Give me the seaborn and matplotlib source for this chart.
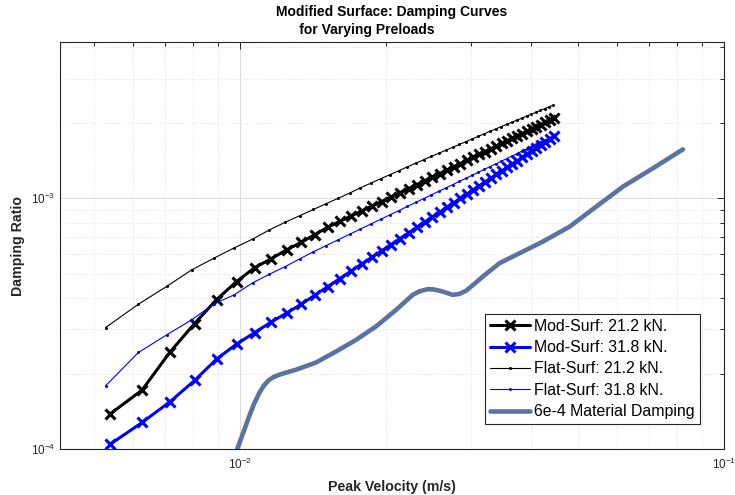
import matplotlib
matplotlib.use("Agg")
import matplotlib.pyplot as plt
from matplotlib.ticker import LogLocator, NullFormatter, LogFormatterSciNotation
import numpy as np
import pandas as pd
import seaborn as sns

# Peak velocity (m/s) for the modified-surface runs
mod_velocity = [0.00539, 0.00628, 0.00717, 0.00806, 0.00895, 0.00984, 0.01073, 0.01162,
                0.01251, 0.01340, 0.01429, 0.01518, 0.01607, 0.01696, 0.01785, 0.01874,
                0.01963, 0.02052, 0.02141, 0.02230, 0.02319, 0.02408, 0.02497, 0.02586,
                0.02675, 0.02764, 0.02853, 0.02942, 0.03031, 0.03120, 0.03209, 0.03298,
                0.03387, 0.03476, 0.03565, 0.03654, 0.03743, 0.03832, 0.03921, 0.04010,
                0.04099, 0.04188, 0.04277, 0.04366, 0.04455]

# Damping ratio, modified surface, 21.2 kN preload
mod_212 = [1.378e-4, 1.718e-4, 2.435e-4, 3.165e-4, 3.945e-4, 4.653e-4, 5.290e-4, 5.747e-4,
           6.240e-4, 6.676e-4, 7.167e-4, 7.660e-4, 8.086e-4, 8.496e-4, 8.901e-4, 9.305e-4,
           9.705e-4, 1.011e-3, 1.052e-3, 1.093e-3, 1.133e-3, 1.174e-3, 1.214e-3, 1.254e-3,
           1.295e-3, 1.335e-3, 1.375e-3, 1.415e-3, 1.455e-3, 1.495e-3, 1.535e-3, 1.575e-3,
           1.614e-3, 1.654e-3, 1.693e-3, 1.733e-3, 1.772e-3, 1.811e-3, 1.850e-3, 1.889e-3,
           1.929e-3, 1.968e-3, 2.006e-3, 2.046e-3, 2.084e-3]

# Damping ratio, modified surface, 31.8 kN preload
mod_318 = [1.043e-4, 1.276e-4, 1.543e-4, 1.876e-4, 2.284e-4, 2.620e-4, 2.913e-4, 3.215e-4,
           3.491e-4, 3.784e-4, 4.109e-4, 4.440e-4, 4.778e-4, 5.121e-4, 5.468e-4, 5.821e-4,
           6.176e-4, 6.539e-4, 6.905e-4, 7.275e-4, 7.649e-4, 8.030e-4, 8.410e-4, 8.797e-4,
           9.188e-4, 9.581e-4, 9.979e-4, 1.038e-3, 1.079e-3, 1.119e-3, 1.161e-3, 1.202e-3,
           1.244e-3, 1.286e-3, 1.328e-3, 1.371e-3, 1.414e-3, 1.457e-3, 1.501e-3, 1.545e-3,
           1.589e-3, 1.633e-3, 1.678e-3, 1.723e-3, 1.769e-3]

# Peak velocity (m/s) for the flat-surface runs
flat_velocity = [0.00528, 0.00617, 0.00706, 0.00795, 0.00884, 0.00973, 0.01062, 0.01151,
                 0.01240, 0.01329, 0.01418, 0.01507, 0.01596, 0.01685, 0.01774, 0.01863,
                 0.01952, 0.02041, 0.02130, 0.02219, 0.02308, 0.02397, 0.02486, 0.02575,
                 0.02664, 0.02753, 0.02842, 0.02931, 0.03020, 0.03109, 0.03198, 0.03287,
                 0.03376, 0.03465, 0.03554, 0.03643, 0.03732, 0.03821, 0.03910, 0.03999,
                 0.04088, 0.04177, 0.04266, 0.04355, 0.04444]

# Damping ratio, flat surface, 21.2 kN preload
flat_212 = [3.05e-4, 3.78e-4, 4.45e-4, 5.18e-4, 5.77e-4, 6.34e-4, 6.87e-4, 7.48e-4,
            8.02e-4, 8.52e-4, 9.02e-4, 9.51e-4, 1.000e-3, 1.048e-3, 1.101e-3, 1.148e-3,
            1.196e-3, 1.242e-3, 1.288e-3, 1.335e-3, 1.380e-3, 1.425e-3, 1.469e-3, 1.512e-3,
            1.555e-3, 1.598e-3, 1.640e-3, 1.682e-3, 1.725e-3, 1.767e-3, 1.808e-3, 1.850e-3,
            1.890e-3, 1.930e-3, 1.969e-3, 2.009e-3, 2.048e-3, 2.086e-3, 2.126e-3, 2.164e-3,
            2.202e-3, 2.240e-3, 2.278e-3, 2.316e-3, 2.354e-3]

# Damping ratio, flat surface, 31.8 kN preload
flat_318 = [1.787e-4, 2.426e-4, 2.853e-4, 3.274e-4, 3.793e-4, 4.118e-4, 4.598e-4, 4.980e-4,
            5.339e-4, 5.731e-4, 6.117e-4, 6.474e-4, 6.831e-4, 7.184e-4, 7.537e-4, 7.888e-4,
            8.238e-4, 8.587e-4, 8.933e-4, 9.281e-4, 9.625e-4, 9.972e-4, 1.032e-3, 1.066e-3,
            1.100e-3, 1.134e-3, 1.168e-3, 1.202e-3, 1.236e-3, 1.270e-3, 1.304e-3, 1.338e-3,
            1.371e-3, 1.405e-3, 1.438e-3, 1.472e-3, 1.505e-3, 1.539e-3, 1.572e-3, 1.606e-3,
            1.639e-3, 1.672e-3, 1.705e-3, 1.738e-3, 1.771e-3]

# Material damping reference curve
material_velocity = [0.00969, 0.00989, 0.01016, 0.01045, 0.01070, 0.01096, 0.01122, 0.01150,
                     0.01177, 0.01206, 0.01252, 0.01305, 0.01436, 0.01579, 0.01738, 0.01910,
                     0.02102, 0.02275, 0.02349, 0.02443, 0.02510, 0.02583, 0.02657, 0.02752,
                     0.02841, 0.02933, 0.03051, 0.03175, 0.03437, 0.03781, 0.04224, 0.04798,
                     0.05445, 0.06181, 0.07131, 0.08226]
material_damping = [8.42e-5, 1.009e-4, 1.161e-4, 1.349e-4, 1.516e-4, 1.671e-4, 1.796e-4, 1.888e-4,
                    1.941e-4, 1.977e-4, 2.023e-4, 2.070e-4, 2.213e-4, 2.447e-4, 2.725e-4, 3.080e-4,
                    3.589e-4, 4.118e-4, 4.253e-4, 4.340e-4, 4.330e-4, 4.280e-4, 4.212e-4, 4.118e-4,
                    4.155e-4, 4.280e-4, 4.557e-4, 4.872e-4, 5.508e-4, 6.036e-4, 6.715e-4, 7.706e-4,
                    9.260e-4, 1.112e-3, 1.317e-3, 1.567e-3]

series_labels = ["Mod-Surf: 21.2 kN.", "Mod-Surf: 31.8 kN.", "Flat-Surf: 21.2 kN.",
                 "Flat-Surf: 31.8 kN.", "6e-4 Material Damping"]

sns.set_theme(style="white")
plt.rcParams["font.family"] = ["Liberation Sans", "DejaVu Sans"]
plt.rcParams["mathtext.default"] = "regular"

TXT = "#262626"
fig = plt.figure(figsize=(7.35, 4.95), dpi=100)
fig.patch.set_facecolor("white")
ax = fig.add_axes([60 / 735, 1 - 449 / 495, 664 / 735, 407 / 495])
ax.set_xscale("log")
ax.set_yscale("log")

mod_df = pd.DataFrame({"v": mod_velocity, "m212": mod_212, "m318": mod_318})
flat_df = pd.DataFrame({"v": flat_velocity, "f212": flat_212, "f318": flat_318})
mat_df = pd.DataFrame({"v": material_velocity, "d": material_damping})

common = dict(ax=ax, sort=False, estimator=None)
sns.lineplot(data=mod_df, x="v", y="m212", color="black", lw=2.2, marker="x",
             markersize=7, mew=2.2, mec="black", label=series_labels[0], **common)
sns.lineplot(data=mod_df, x="v", y="m318", color="#0000ff", lw=2.2, marker="x",
             markersize=7, mew=2.2, mec="#0000ff", label=series_labels[1], **common)
sns.lineplot(data=flat_df, x="v", y="f212", color="black", lw=0.8, marker="o",
             markersize=2.2, mew=0, mfc="black", label=series_labels[2], **common)
sns.lineplot(data=flat_df, x="v", y="f318", color="#0000ff", lw=0.8, marker="o",
             markersize=2.2, mew=0, mfc="#0000ff", label=series_labels[3], **common)
sns.lineplot(data=mat_df, x="v", y="d", color="#5b73a0", lw=3.3,
             solid_joinstyle="round", label=series_labels[4], **common)

ax.set_xlim(0.00425, 0.1)
ax.set_ylim(1e-4, 0.0042)

ax.xaxis.set_major_locator(LogLocator(base=10))
ax.yaxis.set_major_locator(LogLocator(base=10))
ax.xaxis.set_minor_locator(LogLocator(base=10, subs=np.arange(2, 10)))
ax.yaxis.set_minor_locator(LogLocator(base=10, subs=np.arange(2, 10)))
ax.xaxis.set_major_formatter(LogFormatterSciNotation())
ax.yaxis.set_major_formatter(LogFormatterSciNotation())
ax.xaxis.set_minor_formatter(NullFormatter())
ax.yaxis.set_minor_formatter(NullFormatter())

ax.grid(which="major", color="#dcdcdc", lw=0.8, ls="-")
ax.grid(which="minor", color="#dedede", lw=0.7, ls=(0, (1, 2)))
ax.set_axisbelow(True)

ax.tick_params(which="both", direction="in", top=True, right=True,
               color=TXT, labelcolor=TXT, labelsize=8.5, width=0.7)
ax.tick_params(which="major", length=5)
ax.tick_params(which="minor", length=3)
ax.tick_params(axis="x", which="major", pad=5.5)
ax.tick_params(axis="y", which="major", pad=3.5)
for s in ax.spines.values():
    s.set_color(TXT)
    s.set_linewidth(0.8)

ax.set_xlabel("Peak Velocity (m/s)", fontsize=10.2, fontweight="bold", color=TXT, labelpad=6)
ax.set_ylabel("Damping Ratio", fontsize=10.2, fontweight="bold", color=TXT, labelpad=4)
ax.set_title("Modified Surface: Damping Curves\n      for Varying Preloads",
             fontsize=10, fontweight="bold", color="black", ma="left", pad=6,
             linespacing=1.3)

leg = ax.legend(loc="lower right", bbox_to_anchor=(0.964, 0.0607), fontsize=11.4,
                frameon=True, fancybox=False, framealpha=1, edgecolor=TXT,
                handlelength=2.5, handletextpad=0.28, borderpad=0.33, labelspacing=0.4,
                borderaxespad=0)
leg.get_frame().set_linewidth(0.8)
for t in leg.get_texts():
    t.set_color("black")

fig.savefig("out.png", dpi=100, facecolor="white")
